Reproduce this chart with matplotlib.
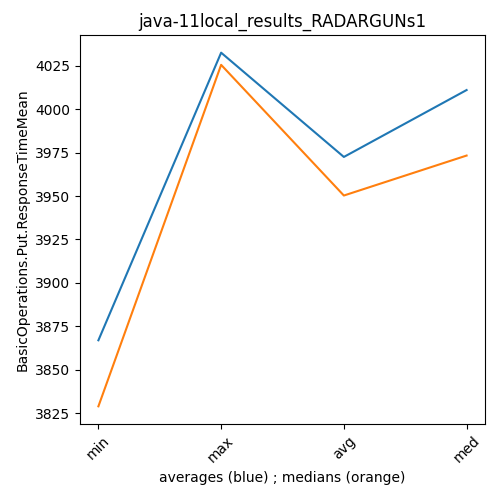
import matplotlib
matplotlib.use("Agg")
import matplotlib.pyplot as plt

categories = ["min", "max", "avg", "med"]
averages = [3867, 4032.5, 3972.5, 4011]
medians = [3829, 4025.5, 3950.3, 3973.3]

fig, ax = plt.subplots(figsize=(5, 5), dpi=100)
ax.plot(categories, averages, color="#1f77b4")
ax.plot(categories, medians, color="#ff7f0e")
ax.set_title("java-11local_results_RADARGUNs1")
ax.set_xlabel("averages (blue) ; medians (orange)")
ax.set_ylabel("BasicOperations.Put.ResponseTimeMean")
plt.setp(ax.get_xticklabels(), rotation=45)
fig.subplots_adjust(left=0.16, right=0.97, top=0.93, bottom=0.152)
fig.savefig("out.png")
